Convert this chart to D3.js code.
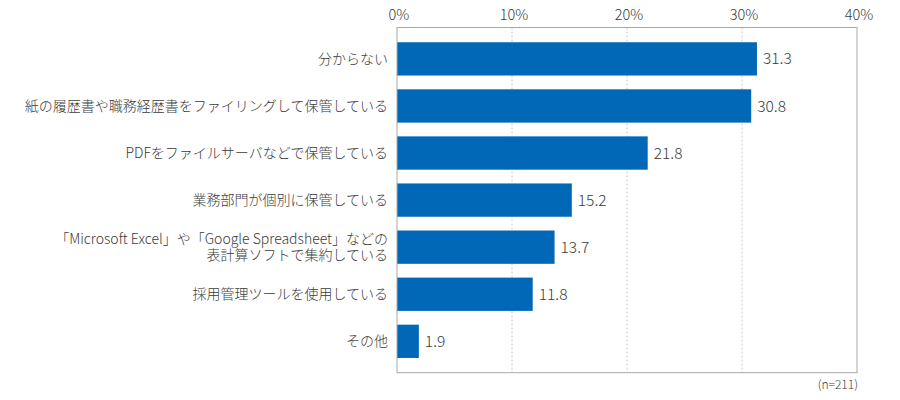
<!DOCTYPE html>
<html><head><meta charset="utf-8">
<script src="https://cdn.jsdelivr.net/npm/d3@7"></script>
<style>body{margin:0;background:#fff;}svg{display:block;font-family:"Noto Sans CJK JP","Noto Sans",sans-serif;}</style>
</head><body>
<svg id="c" width="900" height="400"></svg>
<script>
const categories = [
  ["分からない"],
  ["紙の履歴書や職務経歴書をファイリングして保管している"],
  ["PDFをファイルサーバなどで保管している"],
  ["業務部門が個別に保管している"],
  ["「Microsoft Excel」や「Google Spreadsheet」などの", "表計算ソフトで集約している"],
  ["採用管理ツールを使用している"],
  ["その他"]
];
const values = [31.3, 30.8, 21.8, 15.2, 13.7, 11.8, 1.9];
const ticks = [0, 10, 20, 30, 40];
const note = "(n=211)";

const svg = d3.select("#c");
const L = 397, R = 857, T = 27.5, B = 372.7;
const x = d3.scaleLinear().domain([0, 40]).range([L, R]);
const y = d3.scaleBand().domain(d3.range(categories.length)).range([T, B]).paddingInner(0.2925).paddingOuter(0.313);

// grid
svg.append("g").selectAll("line").data(ticks.slice(1, -1)).join("line")
  .attr("x1", d => x(d)).attr("x2", d => x(d)).attr("y1", T).attr("y2", B)
  .attr("stroke", "#c8c8c8").attr("stroke-dasharray", "2,2").attr("stroke-width", 1);

// tick labels
svg.append("g").selectAll("text").data(ticks).join("text")
  .attr("x", d => x(d) + 2).attr("y", 20).attr("text-anchor", "middle")
  .attr("font-size", 14.5).attr("font-weight", 300).attr("fill", "#3a3a3a").text(d => d + "%");

// bars
svg.append("g").selectAll("rect").data(values).join("rect")
  .attr("x", x(0)).attr("y", (d, i) => y(i)).attr("width", d => x(d) - x(0)).attr("height", y.bandwidth())
  .attr("fill", "#0068b7");

// value labels
svg.append("g").selectAll("text").data(values).join("text")
  .attr("x", d => x(d) + 6).attr("y", (d, i) => y(i) + y.bandwidth() / 2).attr("dy", "0.36em")
  .attr("font-size", 15.5).attr("font-weight", 300).attr("fill", "#3a3a3a").text(d => d.toFixed(1));

// category labels
const lab = svg.append("g").selectAll("text").data(categories).join("text")
  .attr("text-anchor", "end").attr("font-size", 14).attr("font-weight", 300).attr("fill", "#3a3a3a");
lab.each(function(lines, i) {
  const cy = y(i) + y.bandwidth() / 2;
  const lh = 16;
  lines.forEach((s, j) => {
    d3.select(this).append("tspan").attr("x", 388)
      .attr("y", cy + (j - (lines.length - 1) / 2) * lh).attr("dy", "0.36em").text(s);
  });
});

// frame
svg.append("rect").attr("x", L).attr("y", T).attr("width", R - L).attr("height", B - T)
  .attr("fill", "none").attr("stroke", "#a8a8a8").attr("stroke-width", 1);

svg.append("text").attr("x", R + 1).attr("y", 389).attr("text-anchor", "end")
  .attr("font-size", 12).attr("font-weight", 300).attr("fill", "#3a3a3a").text(note);
</script>
</body></html>
